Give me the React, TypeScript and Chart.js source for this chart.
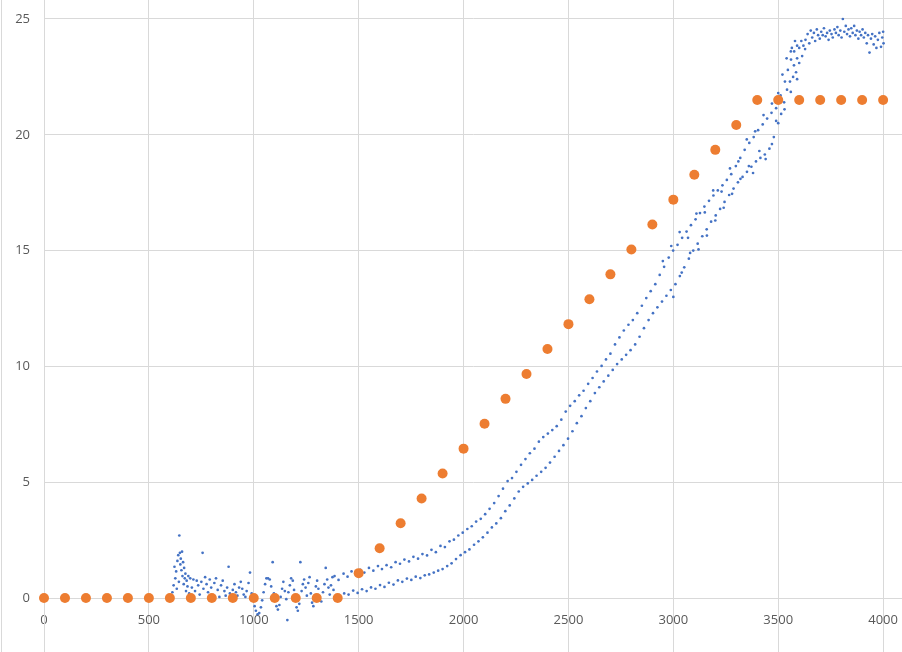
import React, { useEffect, useRef } from 'react';
import { Chart, registerables } from 'chart.js';

Chart.register(...registerables);

// axis ticks
const xTickValues = [0, 500, 1000, 1500, 2000, 2500, 3000, 3500, 4000];
const yTickValues = [0, 5, 10, 15, 20, 25];

// orange series: set point every 100
const setX = [0, 100, 200, 300, 400, 500, 600, 700, 800, 900, 1000, 1100, 1200, 1300, 1400, 1500, 1600, 1700, 1800, 1900, 2000,
    2100, 2200, 2300, 2400, 2500, 2600, 2700, 2800, 2900, 3000, 3100, 3200, 3300, 3400, 3500, 3600, 3700, 3800, 3900, 4000];
const setY = [0, 0, 0, 0, 0, 0, 0, 0, 0, 0, 0, 0, 0, 0, 0, 1.075, 2.15, 3.225, 4.3, 5.375, 6.45,
    7.525, 8.6, 9.675, 10.75, 11.825, 12.9, 13.975, 15.05, 16.125, 17.2, 18.275, 19.35, 20.425, 21.5, 21.5, 21.5, 21.5, 21.5, 21.5, 21.5];

// blue series, noisy part near zero
const noiseX = [605, 612, 618, 622, 626, 630, 633, 636, 640, 643, 645, 648, 650, 652, 655, 658, 660, 663, 666, 668, 671, 674, 677, 680, 684, 688, 692, 697,
    705, 712, 720, 728, 735, 742, 750, 756, 760, 768, 775, 782, 790, 797, 804, 812, 820, 828, 836, 844, 852, 860, 866, 873, 880, 886, 893,
    900, 908, 915, 922, 930, 938, 945, 952, 960, 966, 975, 982, 990, 997, 1004, 1010, 1018, 1026, 1034, 1040, 1047, 1054, 1060, 1068, 1076,
    1083, 1090, 1096, 1102, 1108, 1115, 1122, 1128, 1135, 1141, 1148, 1155, 1160, 1165, 1172, 1178, 1186, 1192, 1198, 1204, 1210, 1217,
    1222, 1228, 1234, 1240, 1247, 1253, 1260, 1266, 1272, 1278, 1284, 1290, 1296, 1302, 1308, 1315, 1322, 1330, 1337, 1343, 1350, 1356,
    1362, 1368, 1375, 1380];
const noiseY = [0.05, 0.25, 0.55, 1.35, 0.85, 1.15, 0.4, 1.6, 1.85, 0.7, 2.7, 1.95, 1.45, 1.7, 1.2, 2.0, 0.95, 1.55, 0.6, 1.3, 0.85, 1.05, 0.3, 0.75, 0.5, 0.95, 0.2, 0.85,
    0.45, 0.8, 0.3, 0.75, 0.55, 0.15, 0.7, 1.95, 0.4, 0.9, 0.6, 0.25, 0.8, 0.45, 0.1, 0.65, 0.85, 0.35, 0.05, 0.55, 0.75, 0.3, 0.1, 0.45, 1.35, 0.2, 0.05,
    0.35, 0.6, 0.25, 0.1, 0.45, 0.7, 0.4, 0.15, 0.05, 0.3, 0.65, 1.1, 0.2, -0.1, -0.35, -0.55, -0.7, -0.65, -0.4, -0.1, 0.25, 0.6, 0.85, 0.85, 0.8,
    0.5, 1.55, 0.2, -0.1, -0.35, -0.5, -0.3, 0.05, 0.4, 0.7, 0.3, -0.05, -0.95, 0.25, 0.55, 0.85, 0.75, 0.35, 0.0, -0.4, -0.55, -0.25,
    1.55, 0.3, 0.6, 0.8, 0.45, 0.1, 0.65, 0.9, 0.2, -0.2, -0.35, 0.1, 0.5, 0.75, 0.4, 0.05, -0.15, 0.25, 0.6, 1.3, 0.8, 0.45,
    0.15, 0.55, 0.9, 0.35];

// blue series, upper (left) band
const riseX = [1385, 1404, 1428, 1447, 1466, 1489, 1508, 1527, 1549, 1570, 1592, 1611, 1633, 1655, 1676, 1697, 1718, 1740, 1761, 1783,
    1804, 1826, 1847, 1868, 1890, 1911, 1933, 1954, 1975, 1996, 2018, 2039, 2060, 2082, 2103, 2124, 2146, 2167, 2188, 2210,
    2231, 2252, 2274, 2295, 2316, 2338, 2359, 2380, 2402, 2423, 2444, 2466, 2487, 2508, 2530, 2551, 2572, 2594, 2615, 2636,
    2658, 2679, 2700, 2722, 2743, 2764, 2786, 2807, 2828, 2850, 2871, 2892, 2914, 2935, 2956, 2978, 2999, 3020, 3042, 3063,
    3084, 3106, 3127, 3148, 3170, 3191, 3212, 3234, 3255, 3276, 3298, 3319, 3340, 3362, 3383, 3404, 3426, 3447, 3468, 3490,
    3511, 3532, 3546, 3561, 3576, 3590];
const riseY = [0.95, 0.78, 1.05, 0.92, 1.15, 1.02, 1.22, 1.1, 1.3, 1.18, 1.38, 1.25, 1.42, 1.33, 1.55, 1.48, 1.66, 1.58, 1.78, 1.7,
    1.9, 1.84, 2.08, 1.98, 2.25, 2.2, 2.45, 2.52, 2.7, 2.82, 2.98, 3.1, 3.3, 3.42, 3.62, 3.85, 4.1, 4.4, 4.72, 5.05,
    5.18, 5.45, 5.75, 6.0, 6.25, 6.45, 6.75, 6.95, 7.1, 7.25, 7.42, 7.7, 8.05, 8.3, 8.5, 8.75, 8.95, 9.25, 9.5, 9.78,
    10.02, 10.3, 10.55, 10.95, 11.25, 11.55, 11.8, 12.0, 12.3, 12.62, 12.95, 13.25, 13.55, 13.95, 14.3, 14.7, 15.0, 15.25, 15.55, 15.82,
    16.1, 16.35, 16.62, 16.9, 17.15, 17.38, 17.6, 17.82, 18.05, 18.3, 18.65, 19.0, 19.35, 19.65, 19.9, 20.2, 20.45, 20.7, 20.95, 21.15,
    21.7, 22.3, 22.8, 23.25, 23.6, 23.85];

// blue series, lower (right) band
const fallX = [1392, 1410, 1431, 1452, 1474, 1495, 1516, 1538, 1559, 1580, 1602, 1623, 1644, 1666, 1687, 1708, 1730, 1751, 1772, 1794,
    1815, 1836, 1858, 1879, 1900, 1922, 1943, 1964, 1986, 2007, 2028, 2050, 2071, 2092, 2114, 2135, 2156, 2178, 2199, 2220,
    2242, 2263, 2284, 2306, 2327, 2348, 2370, 2391, 2412, 2434, 2455, 2476, 2498, 2519, 2540, 2562, 2583, 2604, 2626, 2647,
    2668, 2690, 2711, 2732, 2754, 2775, 2796, 2818, 2839, 2860, 2882, 2903, 2924, 2946, 2967, 2988, 3010, 3031, 3052, 3074,
    3095, 3116, 3138, 3159, 3180, 3202, 3223, 3244, 3266, 3287, 3308, 3330, 3351, 3372, 3394, 3415, 3436, 3458, 3479, 3500,
    3514, 3528, 3542, 3556, 3571, 3585, 3600, 3614, 3628];
const fallY = [0.1, -0.05, 0.2, 0.15, 0.32, 0.22, 0.38, 0.3, 0.46, 0.4, 0.56, 0.48, 0.66, 0.58, 0.76, 0.7, 0.84, 0.78, 0.92, 0.86,
    0.98, 1.02, 1.1, 1.18, 1.25, 1.38, 1.5, 1.68, 1.85, 1.98, 2.1, 2.3, 2.45, 2.62, 2.82, 3.05, 3.22, 3.45, 3.75, 4.0,
    4.3, 4.6, 4.8, 4.95, 5.1, 5.28, 5.45, 5.62, 5.85, 6.1, 6.35, 6.6, 6.88, 7.2, 7.55, 7.85, 8.2, 8.5, 8.85, 9.1,
    9.35, 9.6, 9.85, 10.1, 10.3, 10.5, 10.7, 10.95, 11.28, 11.65, 12.0, 12.3, 12.55, 12.8, 13.05, 13.3, 13.55, 13.9, 14.28, 14.65,
    15.0, 15.3, 15.62, 15.92, 16.25, 16.52, 16.8, 17.1, 17.4, 17.68, 17.95, 18.18, 18.4, 18.62, 18.85, 19.0, 19.15, 19.4, 19.9, 20.5,
    20.9, 21.4, 21.95, 22.3, 22.5, 22.7, 23.1, 23.4, 23.7];

// stray points that widen both bands
const spreadX = [2950, 2990, 3030, 3070, 3110, 3150, 3190, 3230, 3270, 3310, 3350, 3390, 3430, 3470, 3500, 3520, 3540, 3565, 3580,
    3000, 3040, 3080, 3120, 3160, 3200, 3240, 3280, 3320, 3360, 3380, 3410, 3440, 3470, 3490, 3530, 3560, 3590];
const spreadY = [14.55, 15.2, 15.8, 15.55, 16.6, 16.65, 17.6, 17.55, 18.55, 18.85, 19.8, 20.15, 20.85, 21.35, 21.8, 22.6, 23.3, 23.75, 24.05,
    13.0, 14.05, 14.9, 15.05, 15.65, 16.3, 16.85, 17.45, 18.1, 18.65, 18.35, 19.3, 18.95, 19.6, 20.6, 21.1, 21.85, 22.4];

// blue series, plateau
const topX = [3560, 3575, 3590, 3600, 3610, 3620, 3630, 3640, 3648, 3655, 3662, 3670, 3676, 3684, 3690, 3698, 3705, 3712, 3718, 3726,
    3733, 3740, 3746, 3754, 3760, 3768, 3775, 3782, 3788, 3796, 3802, 3808, 3815, 3822, 3828, 3835, 3842, 3848, 3855, 3862,
    3868, 3875, 3882, 3888, 3895, 3902, 3908, 3915, 3922, 3928, 3935, 3942, 3948, 3955, 3962, 3968, 3975, 3982, 3990, 3996, 4000, 4002];
const topY = [23.6, 23.0, 23.3, 23.75, 24.05, 23.85, 24.1, 24.35, 23.95, 24.5, 24.2, 24.4, 24.05, 24.55, 24.3, 24.15, 24.45, 24.3, 24.6, 24.25,
    24.4, 24.1, 24.5, 24.35, 24.2, 24.55, 24.4, 24.65, 24.3, 24.5, 24.2, 25.0, 24.45, 24.7, 24.35, 24.55, 24.25, 24.6, 24.4, 24.7,
    24.3, 24.5, 24.15, 24.45, 24.3, 24.55, 24.2, 24.4, 23.95, 24.3, 23.55, 24.15, 24.35, 23.9, 24.25, 23.75, 24.1, 24.4, 23.8, 24.2, 24.45, 23.95];

const toPoints = (xs: number[], ys: number[]) => xs.map((x, i) => ({ x, y: ys[i] }));

const bluePoints = [
    ...toPoints(noiseX, noiseY),
    ...toPoints(riseX, riseY),
    ...toPoints(fallX, fallY),
    ...toPoints(spreadX, spreadY),
    ...toPoints(topX, topY),
];

const tickFont = { family: '"Open Sans", "Noto Sans", sans-serif', size: 13 };

const edgeLine = {
    id: 'edgeLine',
    beforeDraw(chart: Chart) {
        const { ctx, height } = chart;
        ctx.save();
        ctx.fillStyle = '#ffffff';
        ctx.fillRect(0, 0, chart.width, height);
        ctx.strokeStyle = '#d9d9d9';
        ctx.lineWidth = 1;
        ctx.beginPath();
        ctx.moveTo(1.5, 0);
        ctx.lineTo(1.5, height);
        ctx.stroke();
        ctx.restore();
    },
};

const App: React.FC = () => {
    const canvasRef = useRef<HTMLCanvasElement | null>(null);
    const chartRef = useRef<Chart | null>(null);

    useEffect(() => {
        document.body.style.margin = '0';
        const canvas = canvasRef.current;
        if (!canvas) return;

        const existing = Chart.getChart(canvas);
        if (existing) {
            try { existing.destroy(); } catch (e) {}
        }

        chartRef.current = new Chart(canvas, {
            type: 'scatter',
            data: {
                datasets: [
                    {
                        label: 'set',
                        data: toPoints(setX, setY),
                        backgroundColor: '#ED7D31',
                        borderWidth: 0,
                        pointRadius: 5,
                        clip: false,
                    },
                    {
                        label: 'measured',
                        data: bluePoints,
                        backgroundColor: '#4472C4',
                        borderWidth: 0,
                        pointRadius: 1.35,
                        clip: false,
                    },
                ],
            },
            plugins: [edgeLine],
            options: {
                responsive: false,
                animation: false,
                layout: { autoPadding: false, padding: 0 },
                plugins: {
                    legend: { display: false },
                    tooltip: { enabled: false },
                },
                scales: {
                    x: {
                        type: 'linear',
                        position: { y: 0 },
                        min: 0,
                        max: 4090,
                        afterBuildTicks: (scale: any) => {
                            scale.ticks = xTickValues.map((v) => ({ value: v }));
                        },
                        afterFit: (scale: any) => {
                            scale.paddingLeft = 0;
                            scale.paddingRight = 0;
                        },
                        grid: { color: '#d9d9d9', drawTicks: false },
                        border: { color: '#d9d9d9' },
                        ticks: {
                            autoSkip: false,
                            maxRotation: 0,
                            color: '#595959',
                            font: tickFont,
                            padding: 14,
                            callback: (v: any) => String(v),
                        },
                    },
                    y: {
                        type: 'linear',
                        position: 'left',
                        min: -2.33,
                        max: 25.82,
                        afterBuildTicks: (scale: any) => {
                            scale.ticks = yTickValues.map((v) => ({ value: v }));
                        },
                        afterFit: (scale: any) => {
                            scale.width = 44;
                            scale.paddingTop = 0;
                            scale.paddingBottom = 0;
                        },
                        grid: { color: '#d9d9d9', drawTicks: false },
                        border: { color: '#d9d9d9' },
                        ticks: {
                            autoSkip: false,
                            color: '#595959',
                            font: tickFont,
                            padding: 14,
                            callback: (v: any) => String(v),
                        },
                    },
                },
            },
        });

        return () => {
            if (chartRef.current) {
                try { chartRef.current.destroy(); } catch (e) {}
                chartRef.current = null;
            }
        };
    }, []);

    return (
        <div style={{ width: 902, height: 652 }}>
            <canvas ref={canvasRef} width={902} height={652} />
        </div>
    );
};

export default App;
